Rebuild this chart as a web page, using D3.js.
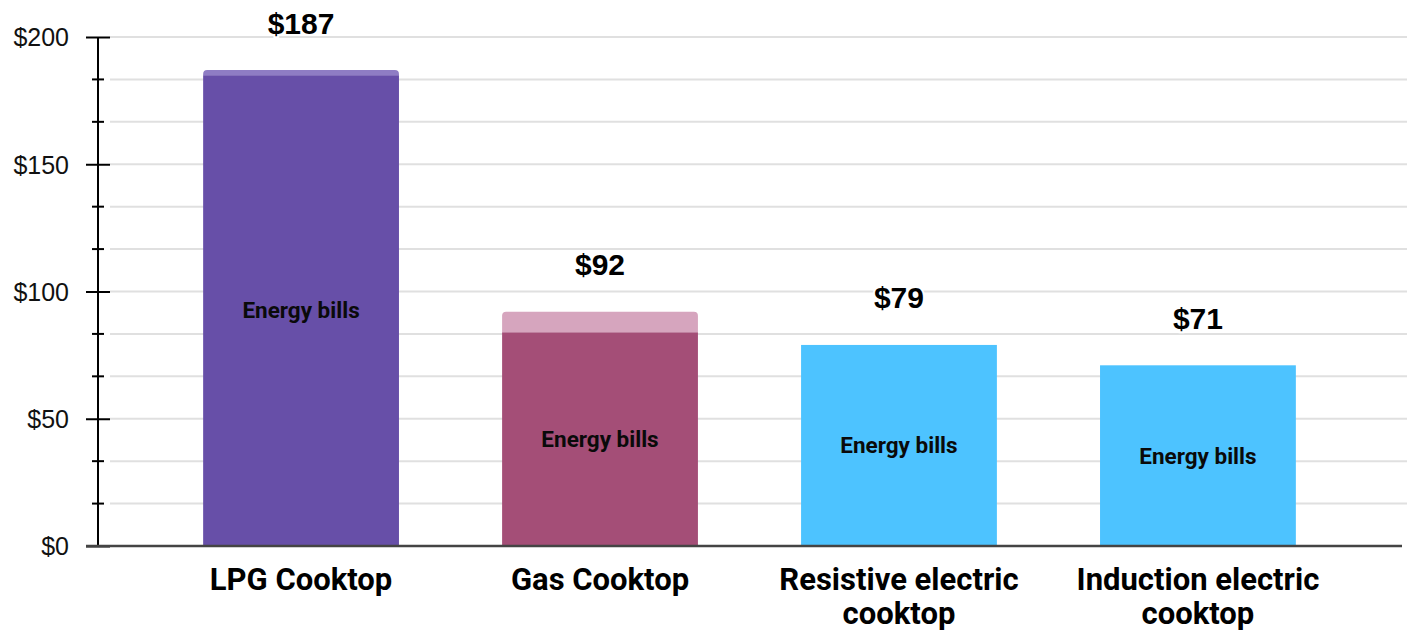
<!DOCTYPE html>
<html>
<head>
<meta charset="utf-8">
<script src="https://cdn.jsdelivr.net/npm/d3@7"></script>
<style>
  body { margin: 0; background: #fff; }
  svg { display: block; }
</style>
</head>
<body>
<svg id="chart" width="1407" height="632"></svg>
<script>
// chart data
const categories = [["LPG Cooktop"], ["Gas Cooktop"], ["Resistive electric", "cooktop"], ["Induction electric", "cooktop"]];
const energyBills = [185, 84, 79, 71];
const otherCosts = [2, 8, 0, 0];
const totals = [187, 92, 79, 71];
const mainColors = ["#674fa8", "#a44e77", "#4dc3ff", "#4dc3ff"];
const topColors = ["#8f7dc4", "#d6a5be", "#4dc3ff", "#4dc3ff"];
const majorTicks = [0, 50, 100, 150, 200];
const minorTicks = [0, 50 / 3, 100 / 3, 50, 200 / 3, 250 / 3, 100, 350 / 3, 400 / 3, 150, 500 / 3, 550 / 3, 200];

const svg = d3.select("#chart");

const x = d3.scaleBand()
    .domain(d3.range(categories.length))
    .range([100, 1399])
    .paddingInner(0.345)
    .paddingOuter(0.345);

const y = d3.scaleLinear()
    .domain([0, 200])
    .range([546, 37]);

const axisX = 98;

// horizontal grid lines
svg.append("g")
    .selectAll("line")
    .data(minorTicks.slice(1))
    .enter()
    .append("line")
    .attr("x1", 110)
    .attr("x2", 1407)
    .attr("y1", d => y(d))
    .attr("y2", d => y(d))
    .attr("stroke", "#e0e0e0")
    .attr("stroke-width", 2);

// y axis with major ticks
const yAxis = d3.axisLeft(y)
    .tickValues(majorTicks)
    .tickFormat(d => "$" + d)
    .tickSize(12)
    .tickPadding(17);

const yAxisGroup = svg.append("g")
    .attr("class", "yaxis")
    .attr("transform", `translate(${axisX},0)`)
    .call(yAxis);

yAxisGroup.select(".domain").remove();
yAxisGroup.selectAll(".tick line")
    .attr("x1", -12)
    .attr("x2", 12)
    .attr("stroke", "#000")
    .attr("stroke-width", 2);
yAxisGroup.selectAll("text")
    .attr("fill", "#111")
    .style("font-family", "'Liberation Sans', Arial, sans-serif")
    .style("font-size", "25px")
    .attr("dy", "0.35em");

// minor ticks
svg.append("g")
    .selectAll("line")
    .data(minorTicks.filter(d => !majorTicks.some(m => Math.abs(m - d) < 0.01)))
    .enter()
    .append("line")
    .attr("x1", axisX - 6)
    .attr("x2", axisX + 6)
    .attr("y1", d => y(d))
    .attr("y2", d => y(d))
    .attr("stroke", "#000")
    .attr("stroke-width", 2);

// vertical axis line
svg.append("line")
    .attr("x1", axisX)
    .attr("x2", axisX)
    .attr("y1", y(200))
    .attr("y2", y(0))
    .attr("stroke", "#000")
    .attr("stroke-width", 2);

// bars: energy bills
const bars = svg.append("g");
bars.selectAll("rect")
    .data(energyBills)
    .enter()
    .append("rect")
    .attr("x", (d, i) => x(i))
    .attr("width", x.bandwidth())
    .attr("y", d => y(d))
    .attr("height", d => y(0) - y(d))
    .attr("fill", (d, i) => mainColors[i]);

// top segments with rounded top corners
function topPath(x0, w, yTop, yBot, r) {
    r = Math.min(r, (yBot - yTop));
    return `M${x0},${yBot}V${yTop + r}Q${x0},${yTop} ${x0 + r},${yTop}` +
        `H${x0 + w - r}Q${x0 + w},${yTop} ${x0 + w},${yTop + r}V${yBot}Z`;
}

bars.selectAll("path")
    .data(otherCosts.map((d, i) => ({ v: d, i: i })).filter(d => d.v > 0))
    .enter()
    .append("path")
    .attr("d", d => topPath(x(d.i), x.bandwidth(), y(energyBills[d.i] + d.v), y(energyBills[d.i]), 4))
    .attr("fill", d => topColors[d.i]);

// segment labels
svg.append("g")
    .selectAll("text")
    .data(energyBills)
    .enter()
    .append("text")
    .attr("x", (d, i) => x(i) + x.bandwidth() / 2)
    .attr("y", d => (y(d) + y(0)) / 2)
    .attr("dy", "0.35em")
    .attr("text-anchor", "middle")
    .attr("fill", "#0a0a0a")
    .style("font-family", "Roboto, sans-serif")
    .style("font-weight", "bold")
    .style("font-size", "22.5px")
    .text("Energy bills");

// bottom axis line
svg.append("line")
    .attr("x1", 86)
    .attr("x2", 1402)
    .attr("y1", y(0))
    .attr("y2", y(0))
    .attr("stroke", "#444")
    .attr("stroke-width", 2.5);

// total labels with white halo
svg.append("g")
    .selectAll("text")
    .data(totals)
    .enter()
    .append("text")
    .attr("x", (d, i) => x(i) + x.bandwidth() / 2)
    .attr("y", d => y(d) - 47)
    .attr("dy", "0.35em")
    .attr("text-anchor", "middle")
    .attr("fill", "#000")
    .attr("stroke", "#fff")
    .attr("stroke-width", 4)
    .attr("paint-order", "stroke")
    .style("font-family", "'Liberation Sans', Arial, sans-serif")
    .style("font-weight", "bold")
    .style("font-size", "30px")
    .text(d => "$" + d);

// category labels
const catGroup = svg.append("g");
categories.forEach((lines, i) => {
    const t = catGroup.append("text")
        .attr("x", x(i) + x.bandwidth() / 2)
        .attr("y", 590)
        .attr("text-anchor", "middle")
        .attr("fill", "#000")
        .style("font-family", "Roboto, sans-serif")
        .style("font-weight", "bold")
        .style("font-size", "31px");
    lines.forEach((line, j) => {
        t.append("tspan")
            .attr("x", x(i) + x.bandwidth() / 2)
            .attr("dy", j === 0 ? 0 : 34)
            .text(line);
    });
});
</script>
</body>
</html>
